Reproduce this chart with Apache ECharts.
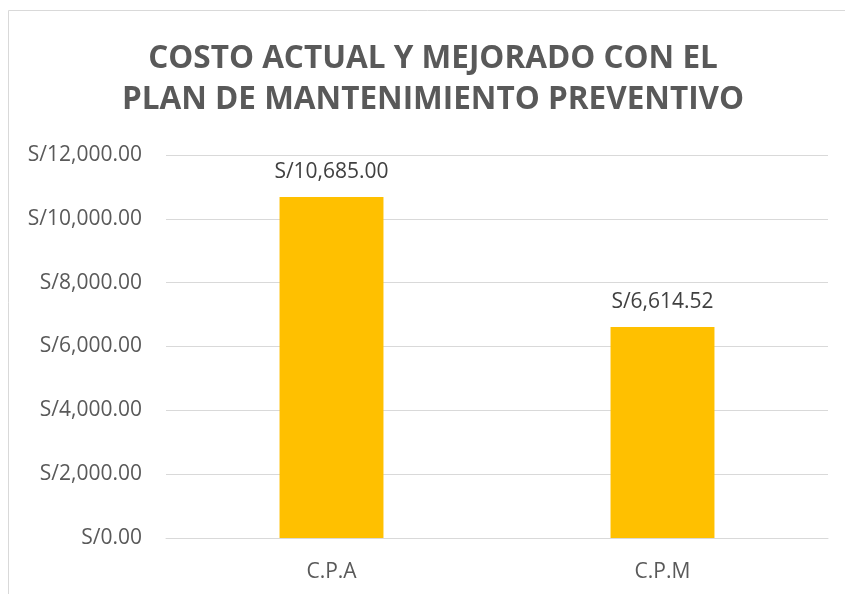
<!DOCTYPE html>
<html>
<head>
<meta charset="utf-8">
<script src="https://cdn.jsdelivr.net/npm/echarts@6/dist/echarts.min.js"></script>
<style>
	html, body { margin: 0; padding: 0; background: #fff; }
	#chart_cost { width: 845px; height: 594px; }
</style>
</head>
<body>
<div id="chart_cost"></div>
<script>
	var categories = ['C.P.A', 'C.P.M'];
	var costs = [10685.00, 6614.52];
	var tickMax = 12000;
	var tickStep = 2000;
	var titleLines = ['COSTO ACTUAL Y MEJORADO CON EL', 'PLAN DE MANTENIMIENTO PREVENTIVO'];

	function soles(v) {
		return 'S/' + Number(v).toLocaleString('en-US', {
			minimumFractionDigits: 2,
			maximumFractionDigits: 2
		});
	}

	var option = {
		animation: false,
		graphic: [
			// marco del gráfico
			{
				type: 'rect',
				shape: { x: 8.5, y: 10.5, width: 860, height: 620 },
				style: { fill: 'none', stroke: '#d9d9d9', lineWidth: 1 },
				silent: true
			},
			// título (centrado en el área del marco, no en la ventana)
			{
				type: 'text',
				x: 433,
				y: 80,
				silent: true,
				style: {
					text: titleLines.join('\n'),
					align: 'center',
					verticalAlign: 'middle',
					fontFamily: 'Open Sans',
					fontWeight: 'bold',
					fontSize: 31.5,
					lineHeight: 41,
					fill: '#595959'
				}
			}
		],
		grid: {
			left: 166,
			right: 17,
			top: 155,
			bottom: 56
		},
		xAxis: {
			type: 'category',
			data: categories,
			axisLine: { lineStyle: { color: '#d9d9d9', width: 1 } },
			axisTick: { show: false },
			axisLabel: {
				margin: 24,
				fontFamily: 'Open Sans',
				fontSize: 21,
				color: '#595959'
			}
		},
		yAxis: {
			type: 'value',
			min: 0,
			max: tickMax,
			interval: tickStep,
			axisLine: { show: false },
			axisTick: { show: false },
			splitLine: { lineStyle: { color: '#d9d9d9', width: 1 } },
			axisLabel: {
				margin: 24,
				fontFamily: 'Open Sans',
				fontSize: 21,
				color: '#595959',
				formatter: soles
			}
		},
		series: [{
			type: 'bar',
			data: costs,
			barWidth: '31.4%',
			itemStyle: { color: '#FFC000' },
			label: {
				show: true,
				position: 'top',
				distance: 14,
				fontFamily: 'Open Sans',
				fontSize: 21,
				color: '#404040',
				formatter: function(p) { return soles(p.value); }
			}
		}]
	};

	var myChart = echarts.init(document.getElementById('chart_cost'));
	myChart.setOption(option);
</script>
</body>
</html>
